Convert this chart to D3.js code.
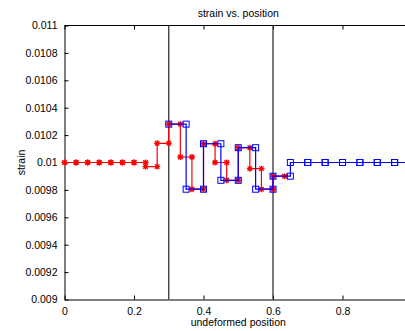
<!DOCTYPE html>
<html>
<head>
<meta charset="utf-8">
<script src="https://cdn.jsdelivr.net/npm/d3@7"></script>
<style>
  body { margin: 0; background: #fff; }
  svg { display: block; font-family: "Liberation Sans", Arial, sans-serif; }
</style>
</head>
<body>
<svg width="405" height="331"></svg>
<script>
// element edges and constant strain per element
var redEdges = [0, 0.0333, 0.0667, 0.1, 0.1333, 0.1667, 0.2, 0.2333, 0.2667, 0.3,
  0.3333, 0.3667, 0.4, 0.4333, 0.4667, 0.5, 0.5333, 0.5667, 0.6, 0.6333];
var redStrain = [0.01, 0.01, 0.01, 0.01, 0.01, 0.01, 0.01, 0.00997, 0.01014, 0.01028,
  0.01004, 0.009805, 0.010137, 0.01, 0.00987, 0.010108, 0.009955, 0.009805, 0.0099];

var blueEdges = [0.3, 0.35, 0.4, 0.45, 0.5, 0.55, 0.6, 0.65, 0.7, 0.75, 0.8, 0.85, 0.9, 0.95, 1.0];
var blueStrain = [0.01028, 0.009805, 0.010137, 0.00987, 0.010108, 0.009805, 0.0099,
  0.01, 0.01, 0.01, 0.01, 0.01, 0.01, 0.01];

var interfaces = [0.3, 0.6];

var xTicks = [0, 0.2, 0.4, 0.6, 0.8];
var yTicks = [0.009, 0.0092, 0.0094, 0.0096, 0.0098, 0.01, 0.0102, 0.0104, 0.0106, 0.0108, 0.011];

var svg = d3.select("svg"),
  margin = {top: 25.5, left: 64.5},
  plotRight = 412,
  plotBottom = 299.5;

var x = d3.scaleLinear().domain([0, 1]).range([margin.left, plotRight]);
var y = d3.scaleLinear().domain([0.009, 0.011]).range([plotBottom, margin.top]);

function stairs(edges, vals) {
  var pts = [];
  vals.forEach(function(v, i) {
    pts.push([edges[i], v]);
    pts.push([edges[i + 1], v]);
  });
  return pts;
}

var line = d3.line()
  .x(function(d) { return x(d[0]); })
  .y(function(d) { return y(d[1]); });

// axes box
svg.append("line")
  .attr("x1", margin.left).attr("x2", plotRight)
  .attr("y1", margin.top).attr("y2", margin.top)
  .attr("stroke", "#000");

svg.append("g")
  .attr("transform", "translate(0," + plotBottom + ")")
  .call(d3.axisBottom(x).tickValues(xTicks).tickSizeInner(-4).tickSizeOuter(0)
    .tickPadding(8).tickFormat(d3.format("")))
  .call(function(g) {
    g.selectAll("text").attr("font-size", "10.5px").attr("fill", "#000").attr("font-family", null);
  });

svg.append("g")
  .attr("transform", "translate(0," + margin.top + ")")
  .call(d3.axisTop(x).tickValues(xTicks).tickSizeInner(-4).tickSizeOuter(0).tickFormat(""))
  .select(".domain").remove();

svg.append("g")
  .attr("transform", "translate(" + margin.left + ",0)")
  .call(d3.axisLeft(y).tickValues(yTicks).tickSizeInner(-4).tickSizeOuter(0)
    .tickPadding(7).tickFormat(d3.format("")))
  .call(function(g) {
    g.selectAll("text").attr("font-size", "10.5px").attr("fill", "#000").attr("font-family", null);
  });

// interface lines
svg.selectAll(".iface")
  .data(interfaces)
  .enter()
  .append("line")
  .attr("x1", function(d) { return x(d); })
  .attr("x2", function(d) { return x(d); })
  .attr("y1", y(0.011))
  .attr("y2", y(0.009))
  .attr("stroke", "#333")
  .attr("stroke-width", 1.3);

// red series
var redPts = stairs(redEdges, redStrain);
svg.append("path")
  .datum(redPts)
  .attr("d", line)
  .attr("fill", "none")
  .attr("stroke", "#ff0000")
  .attr("stroke-width", 1.2);

var s = 3;
var starPath = "M" + (-s) + ",0L" + s + ",0M0," + (-s) + "L0," + s +
  "M" + (-s * 0.75) + "," + (-s * 0.75) + "L" + (s * 0.75) + "," + (s * 0.75) +
  "M" + (-s * 0.75) + "," + (s * 0.75) + "L" + (s * 0.75) + "," + (-s * 0.75);

svg.selectAll(".star")
  .data(redPts)
  .enter()
  .append("path")
  .attr("transform", function(d) { return "translate(" + x(d[0]) + "," + y(d[1]) + ")"; })
  .attr("d", starPath)
  .attr("stroke", "#ff0000")
  .attr("stroke-width", 1.3)
  .attr("fill", "none");

// blue series
var bluePts = stairs(blueEdges, blueStrain);
svg.append("path")
  .datum(bluePts)
  .attr("d", line)
  .attr("fill", "none")
  .attr("stroke", "#0000ff")
  .attr("stroke-width", 1.2);

svg.selectAll(".sq")
  .data(bluePts)
  .enter()
  .append("rect")
  .attr("x", function(d) { return x(d[0]) - 3; })
  .attr("y", function(d) { return y(d[1]) - 3; })
  .attr("width", 6)
  .attr("height", 6)
  .attr("fill", "none")
  .attr("stroke", "#0000ff")
  .attr("stroke-width", 1);

// labels
svg.append("text")
  .attr("x", x(0.5)).attr("y", 17)
  .attr("text-anchor", "middle")
  .attr("font-size", "10.5px")
  .text("strain vs. position");

svg.append("text")
  .attr("x", x(0.5)).attr("y", 326)
  .attr("text-anchor", "middle")
  .attr("font-size", "10.5px")
  .text("undeformed position");

svg.append("text")
  .attr("transform", "translate(24.5," + y(0.01) + ") rotate(-90)")
  .attr("text-anchor", "middle")
  .attr("font-size", "10.5px")
  .text("strain");
</script>
</body>
</html>
